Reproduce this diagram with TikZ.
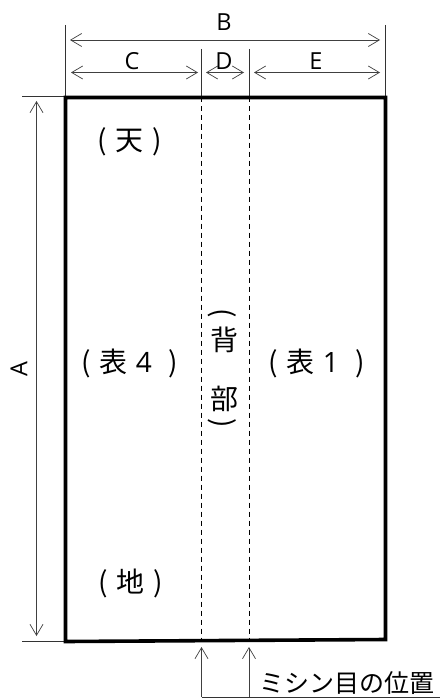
\documentclass[tikz,border=0pt]{standalone}
\usepackage{fontspec}
\setmainfont{Open Sans}
\newfontfamily\jpfont{Noto Sans CJK JP}
\usetikzlibrary{arrows.meta}
\tikzset{
  x=1pt,y=-1pt,
  lbl/.style={inner sep=0pt,outer sep=0pt,font=\fontsize{23.5}{25}\selectfont,text=black},
  jp/.style={inner sep=0pt,outer sep=0pt,font=\fontsize{28}{30}\selectfont\jpfont,text=black},
  jpsmall/.style={inner sep=0pt,outer sep=0pt,font=\fontsize{25}{27}\selectfont\jpfont,text=black},
  dim/.style={draw=black!75,line width=0.8pt,{Straight Barb[length=11pt,width=13pt,line width=0.7pt]}-{Straight Barb[length=11pt,width=13pt,line width=0.7pt]}},
  pointer/.style={draw=black!75,line width=0.8pt,-{Straight Barb[length=11pt,width=13pt,line width=0.7pt]}},
  ext/.style={draw=black!80,line width=0.8pt},
  fold/.style={draw=black,line width=1pt,dash pattern=on 5pt off 4pt},
  outline/.style={draw=black,line width=3.6pt,line join=miter},
}
\begin{document}
\begin{tikzpicture}
\useasboundingbox (0,0) rectangle (440,698);
\coordinate (tl) at (65.5,97.5);
\coordinate (tr) at (385.5,97.5);
\coordinate (br) at (385.5,639.5);
\coordinate (bl) at (65.5,641.5);
\coordinate (ft1) at (201.5,97.5);
\coordinate (ft2) at (249,97.5);
\coordinate (fb1) at (201.5,640.5);
\coordinate (fb2) at (249,640.5);
\coordinate (el) at (65.5,25);
\coordinate (er) at (385.5,25);
\coordinate (e1) at (201.5,49);
\coordinate (e2) at (249,49);
\coordinate (ha1) at (22,96.5);
\coordinate (ha2) at (65,96.5);
\coordinate (hb1) at (22,641);
\coordinate (hb2) at (65,641);
\coordinate (a1) at (36.5,101);
\coordinate (a2) at (36.5,636);
\coordinate (b1) at (70,40);
\coordinate (b2) at (380,40);
\coordinate (c1) at (71,72.5);
\coordinate (c2) at (198,72.5);
\coordinate (d1) at (206,72.5);
\coordinate (d2) at (244,72.5);
\coordinate (g1) at (254,72.5);
\coordinate (g2) at (380,72.5);
\coordinate (p1) at (201.5,647);
\coordinate (p2) at (249,647);
\coordinate (q1) at (201.5,697);
\coordinate (q2) at (249,697);
\coordinate (q3) at (440,697);

\draw[fold] (ft1) -- (fb1);
\draw[fold] (ft2) -- (fb2);
\draw[ext] (el) -- (tl);
\draw[ext] (er) -- (tr);
\draw[ext] (e1) -- (ft1);
\draw[ext] (e2) -- (ft2);
\draw[ext] (ha1) -- (ha2);
\draw[ext] (hb1) -- (hb2);
\draw[outline] (tl) -- (tr) -- (br) -- (bl) -- cycle;
\draw[dim] (a1) -- (a2);
\draw[dim] (b1) -- (b2);
\draw[dim] (c1) -- (c2);
\draw[dim] (d1) -- (d2);
\draw[dim] (g1) -- (g2);
\draw[pointer] (q1) -- (p1);
\draw[pointer] (q2) -- (p2);
\draw[ext] (q1) -- (q3);

\node[lbl] (A) at (19,369) {\rotatebox{90}{A}};
\node[lbl] (B) at (224,22) {B};
\node[lbl] (C) at (132,61) {C};
\node[lbl] (D) at (224,61) {D};
\node[lbl] (E) at (316,61) {E};
\node[jp] (ten) at (130,142) {(\hspace{9pt}天\hspace{9pt})};
\node[jp] (chi) at (130.5,583) {(\hspace{9pt}地\hspace{9pt})};
\node[jp] (h4) at (129.5,363) {(\hspace{9pt}表\hspace{8pt}{\fontspec{Open Sans}4}\hspace{16pt})};
\node[jp] (h1) at (316.5,363) {(\hspace{9pt}表\hspace{8pt}{\fontspec{Open Sans}1}\hspace{16pt})};
\node[jp,rotate=-90] (pa) at (222,313) {(};
\node[jp] (se) at (224,340) {背};
\node[jp] (bu) at (224,399) {部};
\node[jp,rotate=-90] (pb) at (222,423) {)};
\node[jpsmall,anchor=west] (mishin) at (259,683) {ミシン目の位置};
\end{tikzpicture}
\end{document}
